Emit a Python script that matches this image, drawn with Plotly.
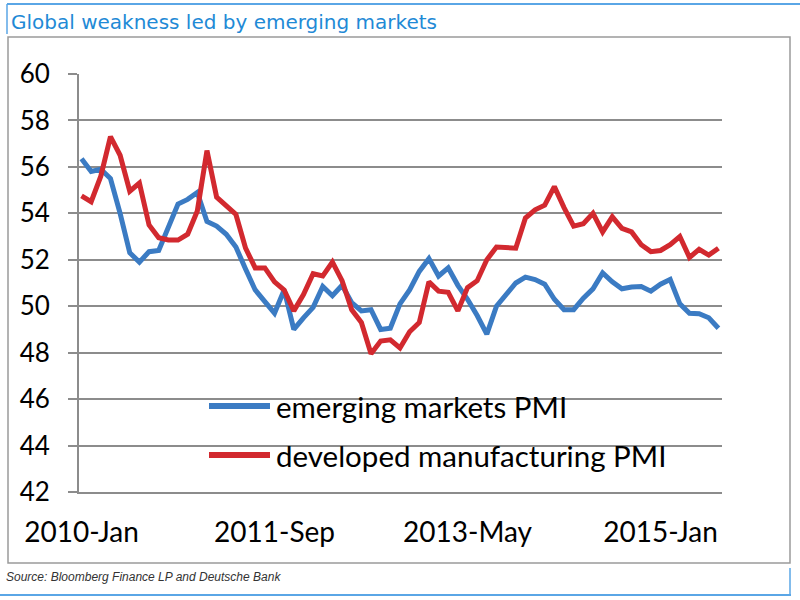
import plotly.graph_objects as go

# ---- data ----
month_names = ["Jan", "Feb", "Mar", "Apr", "May", "Jun", "Jul", "Aug", "Sep", "Oct", "Nov", "Dec"]
months = []
for k in range(67):
    y = 2010 + k // 12
    months.append(f"{y}-{month_names[k % 12]}")

tick_labels = ["2010-Jan", "2011-Sep", "2013-May", "2015-Jan"]

emerging_pmi = [
    56.35, 55.8, 55.9, 55.5, 54.0, 52.3, 51.9, 52.35, 52.4, 53.4,
    54.4, 54.6, 54.9, 53.65, 53.45, 53.1, 52.55, 51.6, 50.7, 50.2,
    49.7, 50.7, 49.0, 49.5, 49.95, 50.85, 50.45, 50.9, 50.15, 49.8,
    49.85, 49.0, 49.05, 50.1, 50.7, 51.5, 52.05, 51.3, 51.65, 50.9,
    50.3, 49.6, 48.8, 50.0, 50.5, 51.0, 51.25, 51.15, 50.95, 50.3,
    49.85, 49.85, 50.35, 50.75, 51.43, 51.05, 50.75, 50.83, 50.85, 50.65,
    50.95, 51.15, 50.1, 49.7, 49.68, 49.5, 49.05,
]

developed_pmi = [
    54.75, 54.5, 55.6, 57.3, 56.5, 54.95, 55.3, 53.5, 52.95, 52.85,
    52.85, 53.1, 54.1, 56.7, 54.7, 54.35, 53.95, 52.5, 51.65, 51.65,
    51.05, 50.7, 49.8, 50.5, 51.4, 51.3, 51.9, 51.1, 49.85, 49.3,
    47.95, 48.5, 48.55, 48.2, 48.9, 49.3, 51.05, 50.65, 50.6, 49.8,
    50.8, 51.1, 52.0, 52.55, 52.5, 52.5, 53.8, 54.15, 54.35, 55.15,
    54.25, 53.45, 53.55, 54.0, 53.2, 53.85, 53.35, 53.2, 52.65, 52.35,
    52.4, 52.65, 53.0, 52.1, 52.45, 52.2, 52.5,
]

series_names = ["emerging markets PMI", "developed manufacturing PMI"]
title_text = "Global weakness led by emerging markets"
source_text = "Source: Bloomberg Finance LP and Deutsche Bank"

# ---- styling ----
BLUE = "#3b7bc3"
RED = "#d2292f"
GRID = "#8c8c8c"
FRAME_BLUE = "#5aa6e6"
W, H = 800, 600
L, R, T, B = 79, 78, 74, 108
PW, PH = W - L - R, H - T - B


def px(xp):
    return (xp - L) / PW


def py(yp):
    return (H - B - yp) / PH


fig = go.Figure()
fig.add_trace(go.Scatter(x=months, y=emerging_pmi, mode="lines", name=series_names[0],
                         line=dict(color=BLUE, width=5), showlegend=False))
fig.add_trace(go.Scatter(x=months, y=developed_pmi, mode="lines", name=series_names[1],
                         line=dict(color=RED, width=5), showlegend=False))

font_main = "Lato, Carlito, 'Liberation Sans', sans-serif"

fig.update_layout(
    width=W, height=H,
    margin=dict(l=L, r=R, t=T, b=B),
    paper_bgcolor="white", plot_bgcolor="white",
    font=dict(family=font_main, color="black"),
    xaxis=dict(
        type="category",
        range=[-0.26, 66.37],
        tickvals=tick_labels,
        ticktext=tick_labels,
        showgrid=False,
        showline=True, linecolor=GRID, linewidth=2,
        ticks="", tickangle=0,
        tickfont=dict(size=28, family=font_main, color="black"),
        ticklabelstandoff=14,
        zeroline=False,
    ),
    yaxis=dict(
        range=[42, 60],
        tickvals=list(range(42, 61, 2)),
        showgrid=True, gridcolor=GRID, gridwidth=2,
        showline=True, linecolor=GRID, linewidth=2,
        ticks="outside", ticklen=9, tickcolor=GRID, tickwidth=2,
        tickfont=dict(size=26, family=font_main, color="black"),
        ticklabelstandoff=13,
        zeroline=False,
    ),
)

shapes = []
# chart frame
shapes.append(dict(type="rect", xref="paper", yref="paper",
                   x0=px(8), x1=px(790), y0=py(563), y1=py(37),
                   line=dict(color="#9a9a9a", width=1.5), layer="below"))
# top blue rule and left tick
shapes.append(dict(type="line", xref="paper", yref="paper",
                   x0=px(7), x1=px(800), y0=py(4), y1=py(4),
                   line=dict(color=FRAME_BLUE, width=2)))
shapes.append(dict(type="line", xref="paper", yref="paper",
                   x0=px(7), x1=px(7), y0=py(4), y1=py(34),
                   line=dict(color=FRAME_BLUE, width=1.5)))
# bottom blue rule and right tick
shapes.append(dict(type="line", xref="paper", yref="paper",
                   x0=px(0), x1=px(791), y0=py(595), y1=py(595),
                   line=dict(color=FRAME_BLUE, width=2)))
shapes.append(dict(type="line", xref="paper", yref="paper",
                   x0=px(790), x1=px(790), y0=py(568), y1=py(595),
                   line=dict(color=FRAME_BLUE, width=1.5)))
# legend samples
for yy, col in [(406, BLUE), (455, RED)]:
    shapes.append(dict(type="line", xref="paper", yref="paper",
                       x0=px(209), x1=px(270), y0=py(yy), y1=py(yy),
                       line=dict(color=col, width=6)))
fig.update_layout(shapes=shapes)

annotations = [
    dict(text=title_text, xref="paper", yref="paper", x=px(9), y=py(22),
         xanchor="left", yanchor="middle", showarrow=False,
         font=dict(size=20, color="#1f8ad6", family="'DejaVu Sans', Verdana, sans-serif")),
    dict(text="<i>" + source_text + "</i>", xref="paper", yref="paper", x=px(4), y=py(577),
         xanchor="left", yanchor="middle", showarrow=False,
         font=dict(size=12, color="#333333", family="'Liberation Sans', Arial, sans-serif")),
    dict(text=series_names[0], xref="paper", yref="paper", x=px(274), y=py(406),
         xanchor="left", yanchor="middle", showarrow=False,
         font=dict(size=29.5, color="black", family=font_main)),
    dict(text=series_names[1], xref="paper", yref="paper", x=px(274), y=py(455),
         xanchor="left", yanchor="middle", showarrow=False,
         font=dict(size=29.5, color="black", family=font_main)),
]
fig.update_layout(annotations=annotations)

fig.write_html("out.html", config={"displayModeBar": False},
               post_script="document.body.style.margin='0';document.body.style.overflow='hidden';")
